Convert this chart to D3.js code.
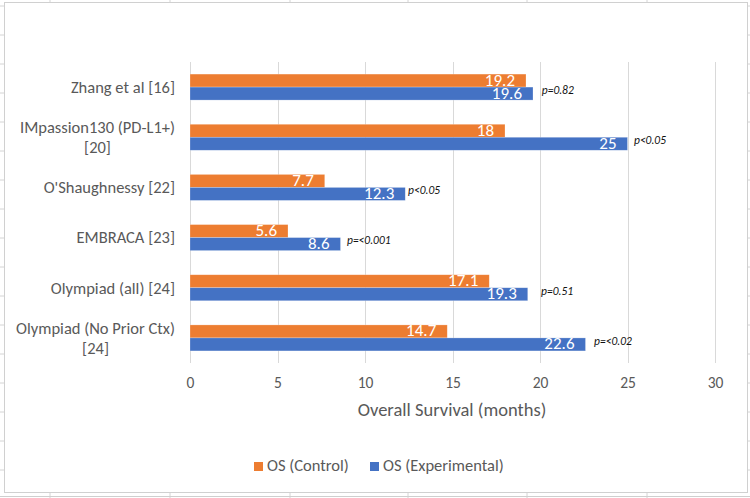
<!DOCTYPE html>
<html>
<head>
<meta charset="utf-8">
<script src="https://cdn.jsdelivr.net/npm/d3@7"></script>
<style>
  html, body { margin: 0; padding: 0; background: #fff; }
  svg { display: block; font-family: Carlito, Lato, "Open Sans", sans-serif; }
</style>
</head>
<body>
<svg id="chart" width="750" height="498"></svg>
<script>
// ---- data ----
const categories = [
  ["Zhang et al [16]"],
  ["IMpassion130 (PD-L1+)", "[20]"],
  ["O'Shaughnessy [22]"],
  ["EMBRACA [23]"],
  ["Olympiad (all) [24]"],
  ["Olympiad (No Prior Ctx)", "[24]"]
];
const seriesNames = ["OS (Control)", "OS (Experimental)"];
const osControl = [19.2, 18, 7.7, 5.6, 17.1, 14.7];
const osExperimental = [19.6, 25, 12.3, 8.6, 19.3, 22.6];
const pValues = ["p=0.82", "p<0.05", "p<0.05", "p=<0.001", "p=0.51", "p=<0.02"];
const pAnchor = [20.1, 25.37, 12.46, 8.97, 20.06, 23.09]; // annotation x, in months
const xTicks = [0, 5, 10, 15, 20, 25, 30];
const axisTitle = "Overall Survival (months)";

// ---- layout ----
const svg = d3.select("#chart");
const W = 750, H = 498;
const colors = ["#ED7D31", "#4472C4"];
const textGray = "#595959";

// spreadsheet backdrop
const bg = svg.append("g");
[50, 170, 290, 408, 527, 647].forEach(x => {
  bg.append("line").attr("x1", x).attr("x2", x).attr("y1", 0).attr("y2", H)
    .attr("stroke", "#d4d4d4").attr("stroke-width", 1);
});
d3.range(6, H, 29).forEach(y => {
  bg.append("line").attr("x1", 0).attr("x2", W).attr("y1", y).attr("y2", y)
    .attr("stroke", "#d4d4d4").attr("stroke-width", 1);
});
bg.append("line").attr("x1", 0).attr("x2", W).attr("y1", 496.5).attr("y2", 496.5)
  .attr("stroke", "#cfcfcf");
// chart frame
svg.append("rect").attr("x", 4.5).attr("y", 2.5).attr("width", 743).attr("height", 490)
  .attr("fill", "#fff").attr("stroke", "#d0d0d0").attr("stroke-width", 1);

const x = d3.scaleLinear().domain([0, 30]).range([190, 715]);
const y = d3.scaleBand().domain(d3.range(categories.length)).range([62, 363]).padding(0);
const barH = 13;

// gridlines
svg.append("g").selectAll("line").data(xTicks).join("line")
  .attr("x1", d => Math.round(x(d)) + 0.5).attr("x2", d => Math.round(x(d)) + 0.5)
  .attr("y1", 62).attr("y2", 363)
  .attr("stroke", "#d9d9d9").attr("stroke-width", 1);

// x axis tick labels
const xAxis = d3.axisBottom(x).tickValues(xTicks).tickSize(0).tickPadding(0);
const ax = svg.append("g").attr("transform", "translate(0,377)").call(xAxis);
ax.select(".domain").remove();
ax.selectAll("text").attr("font-size", 15.5).attr("fill", textGray)
  .attr("font-family", "Carlito, Lato, 'Open Sans', sans-serif");

// axis title
svg.append("text").attr("x", 452).attr("y", 412).attr("text-anchor", "middle")
  .attr("dominant-baseline", "middle").attr("font-size", 18.5).attr("fill", textGray)
  .text(axisTitle);

// bars
const series = [osControl, osExperimental];
series.forEach((vals, si) => {
  const g = svg.append("g");
  g.selectAll("rect").data(vals).join("rect")
    .attr("x", x(0))
    .attr("y", (d, i) => y(i) + y.bandwidth() / 2 - barH + si * barH)
    .attr("width", d => x(d) - x(0))
    .attr("height", barH)
    .attr("fill", colors[si])
    .attr("stroke", "#fff").attr("stroke-opacity", 0.4).attr("stroke-width", 0.6);
  g.selectAll("text").data(vals).join("text")
    .attr("x", d => x(d) - 11)
    .attr("y", (d, i) => y(i) + y.bandwidth() / 2 - barH + si * barH + barH / 2 + 1)
    .attr("text-anchor", "end").attr("dominant-baseline", "middle")
    .attr("font-size", 17).attr("fill", "#fff")
    .text(d => d);
});

// p-value annotations
svg.append("g").selectAll("text").data(pValues).join("text")
  .attr("x", (d, i) => x(pAnchor[i]))
  .attr("y", (d, i) => y(i) + y.bandwidth() / 2 + 4)
  .attr("dominant-baseline", "middle")
  .attr("font-size", 11.5).attr("font-style", "italic").attr("fill", "#111")
  .text(d => d);

// category labels
const labelRight = 175;
categories.forEach((lines, i) => {
  const cy = y(i) + y.bandwidth() / 2;
  const lh = 20;
  const t = svg.append("text").attr("font-size", 16.5).attr("fill", textGray)
    .attr("text-anchor", "middle");
  const spans = lines.map((ln, k) => t.append("tspan").text(ln));
  const maxW = d3.max(spans, s => s.node().getComputedTextLength());
  const cx = labelRight - maxW / 2;
  const top = cy - (lines.length - 1) * lh / 2;
  spans.forEach((s, k) => s.attr("x", cx).attr("y", top + k * lh).attr("dy", "0.35em"));
});

// legend
const legend = svg.append("g");
const legX = [254, 370];
seriesNames.forEach((name, i) => {
  legend.append("rect").attr("x", legX[i]).attr("y", 462).attr("width", 9).attr("height", 9)
    .attr("fill", colors[i]);
  legend.append("text").attr("x", legX[i] + 13).attr("y", 467)
    .attr("dominant-baseline", "middle").attr("font-size", 16.5).attr("fill", textGray)
    .text(name);
});
</script>
</body>
</html>
